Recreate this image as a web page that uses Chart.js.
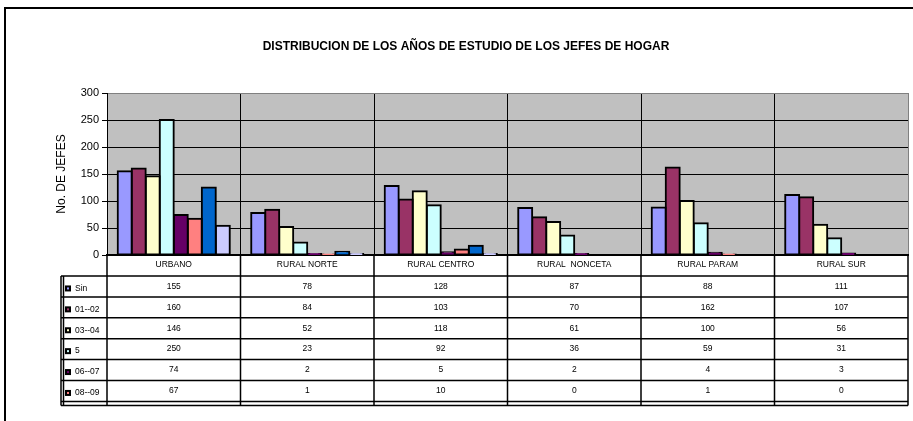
<!DOCTYPE html>
<html>
<head>
<meta charset="utf-8">
<script src="https://cdn.jsdelivr.net/npm/chart.js@4"></script>
<style>
  body { margin: 0; background: #fff; }
</style>
</head>
<body>
<canvas id="grafico" width="913" height="421"></canvas>
<script>
// datos
const categorias = ["URBANO", "RURAL NORTE", "RURAL CENTRO", "RURAL  NONCETA", "RURAL PARAM", "RURAL SUR"]
const nombres = ["Sin", "01--02", "03--04", "5", "06--07", "08--09", "10--12", "13 y mas"]

const sin = [155, 78, 128, 87, 88, 111]
const anios0102 = [160, 84, 103, 70, 162, 107]
const anios0304 = [146, 52, 118, 61, 100, 56]
const anios5 = [250, 23, 92, 36, 59, 31]
const anios0607 = [74, 2, 5, 2, 4, 3]
const anios0809 = [67, 1, 10, 0, 1, 0]
// estas dos filas quedan cortadas en la tabla, valores estimados de las barras
const anios1012 = [125, 6, 17, 0, 0, 0]
const anios13 = [54, 2, 2, 0, 0, 0]

const series = [sin, anios0102, anios0304, anios5, anios0607, anios0809, anios1012, anios13]
const colores = ["#9999FF", "#993366", "#FFFFCC", "#CCFFFF", "#660066", "#FF8080", "#0066CC", "#CCCCFF"]
const ticksY = { min: 0, max: 300, paso: 50 }

const FUENTE = '"Liberation Sans", Arial, sans-serif'
const filasTabla = 6

// fondo blanco + area gris
const fondo = {
  id: "fondo",
  beforeDraw(chart) {
    const { ctx, chartArea: a } = chart
    ctx.save()
    ctx.fillStyle = "#fff"
    ctx.fillRect(0, 0, chart.width, chart.height)
    ctx.fillStyle = "#c0c0c0"
    ctx.fillRect(a.left, a.top, a.right - a.left, a.bottom - a.top)
    ctx.restore()
  }
}

// titulo, marco y tabla de datos
const tabla = {
  id: "tabla",
  afterDraw(chart) {
    const { ctx, chartArea: a } = chart
    const x = chart.scales.x
    const ancho = (a.right - a.left) / categorias.length
    const yCab = a.bottom
    const yFila0 = a.bottom + 21
    const altoFila = 20.9
    const yFin = yFila0 + filasTabla * altoFila + 4
    const xIzq = 61

    ctx.save()
    // marco exterior
    ctx.strokeStyle = "#000"
    ctx.lineWidth = 2
    ctx.beginPath()
    ctx.moveTo(5, chart.height)
    ctx.lineTo(5, 8)
    ctx.lineTo(chart.width, 8)
    ctx.stroke()

    // titulo
    ctx.fillStyle = "#000"
    ctx.font = "bold 12px " + FUENTE
    ctx.textAlign = "center"
    ctx.textBaseline = "middle"
    ctx.fillText("DISTRIBUCION DE LOS AÑOS DE ESTUDIO DE LOS JEFES DE HOGAR", 466, 47)

    // lineas verticales de la tabla
    ctx.lineWidth = 1.5
    ctx.beginPath()
    for (let i = 0; i <= categorias.length; i++) {
      const px = a.left + i * ancho
      ctx.moveTo(px, yCab)
      ctx.lineTo(px, yFin)
    }
    ctx.moveTo(xIzq, yFila0)
    ctx.lineTo(xIzq, yFin)
    ctx.moveTo(xIzq + 2.5, yFila0)
    ctx.lineTo(xIzq + 2.5, yFin)
    // horizontales
    for (let f = 0; f <= filasTabla; f++) {
      const py = yFila0 + f * altoFila
      ctx.moveTo(xIzq, py)
      ctx.lineTo(a.right, py)
    }
    ctx.moveTo(xIzq, yFin)
    ctx.lineTo(a.right, yFin)
    ctx.stroke()

    // cabecera con categorias
    ctx.font = "8.5px " + FUENTE
    ctx.fillStyle = "#000"
    categorias.forEach((c, i) => {
      ctx.fillText(c, x.getPixelForValue(i), yCab + 10)
    })

    // filas: leyenda + valores
    for (let f = 0; f < filasTabla; f++) {
      const cy = yFila0 + f * altoFila + altoFila / 2
      ctx.fillStyle = "#000"
      ctx.fillRect(65, cy - 1, 6, 6)
      ctx.fillStyle = colores[f]
      ctx.fillRect(67, cy + 1, 2, 2)
      ctx.fillStyle = "#000"
      ctx.textAlign = "left"
      ctx.fillText(nombres[f], 75, cy + 2)
      ctx.textAlign = "center"
      series[f].forEach((v, i) => {
        ctx.fillText(String(v), x.getPixelForValue(i), cy)
      })
    }
    ctx.restore()
  }
}

const grafico = new Chart("grafico", {
  type: "bar",
  data: {
    labels: categorias,
    datasets: series.map((d, i) => ({
      label: nombres[i],
      data: d,
      backgroundColor: colores[i],
      borderColor: "#000",
      borderWidth: 2,
      borderSkipped: false,
      inflateAmount: 1,
      barPercentage: 1,
      categoryPercentage: 0.84
    }))
  },
  options: {
    responsive: false,
    animation: false,
    devicePixelRatio: 1,
    layout: { padding: { left: 40, right: 5, top: 93, bottom: 166 } },
    plugins: {
      legend: { display: false },
      title: { display: false },
      tooltip: { enabled: false }
    },
    scales: {
      x: {
        ticks: { display: false },
        grid: {
          color: c => c.type === "tick" ? "#000" : "#808080",
          drawTicks: false,
          offset: true
        },
        border: { color: "#000", width: 2 }
      },
      y: {
        min: ticksY.min,
        max: ticksY.max,
        ticks: { stepSize: ticksY.paso, color: "#000", padding: 3, font: { family: FUENTE, size: 11 } },
        grid: {
          color: c => c.tick && c.tick.value === ticksY.max ? "#808080" : "#000",
          tickColor: "#000",
          tickLength: 5
        },
        border: { color: "#000", width: 1 },
        title: {
          display: true,
          text: "No. DE JEFES",
          color: "#000",
          font: { family: FUENTE, size: 12 },
          padding: { top: 14, bottom: 0 }
        },
        afterFit: s => { s.width = 67 }
      }
    }
  },
  plugins: [fondo, tabla]
})
</script>
</body>
</html>
